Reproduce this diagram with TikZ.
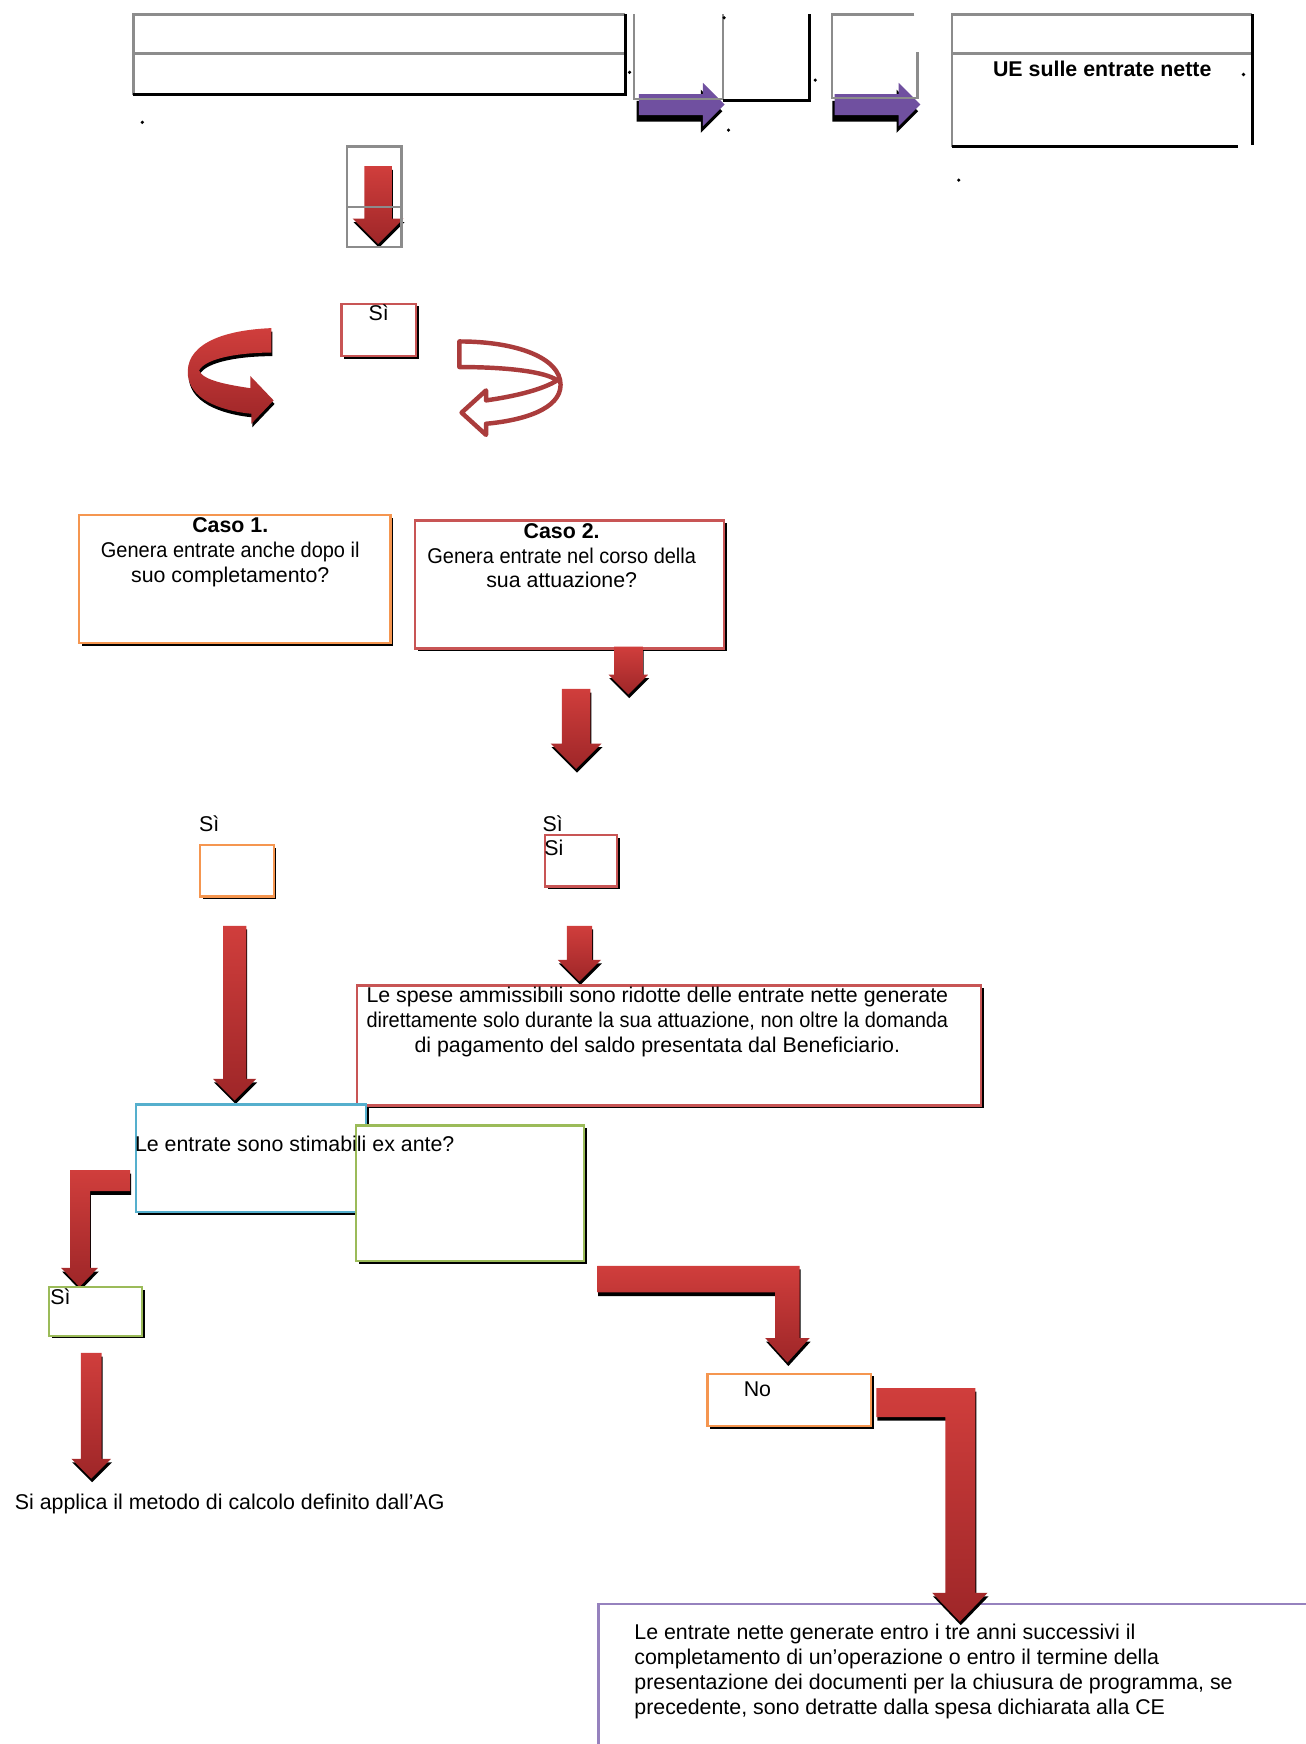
\documentclass[tikz,border=0pt]{standalone}
\usepackage{fontspec}
\setmainfont{Liberation Sans}
\usetikzlibrary{shapes.arrows, shadows, positioning}
\definecolor{lineGray}{RGB}{140, 140, 140}
\definecolor{arrowRed}{RGB}{208, 62, 60}
\definecolor{arrowRedDark}{RGB}{158, 38, 40}
\definecolor{arrowPurple}{RGB}{112, 80, 160}
\definecolor{borderOrange}{RGB}{245, 150, 80}
\definecolor{borderRed}{RGB}{200, 85, 85}
\definecolor{borderBlue}{RGB}{85, 175, 205}
\definecolor{borderGreen}{RGB}{155, 187, 89}
\definecolor{borderPurple}{RGB}{150, 130, 190}
\definecolor{outlineRed}{RGB}{170, 60, 60}

\begin{document}
\begin{tikzpicture}[
    x=0.5pt, y=-0.5pt,
    % Box styles
    box/.style={
        rectangle,
        draw=#1,
        line width=1pt,
        fill=white,
        anchor=north west,
        inner sep=0pt,
        drop shadow={shadow xshift=1.2pt, shadow yshift=-1.2pt, opacity=1, fill=black}
    },
    txt/.style={
        inner sep=0pt,
        align=center,
        font=\fontsize{9.6}{11.2}\selectfont
    },
    % Arrow styles
    redarrow/.style={
        top color=arrowRed,
        bottom color=arrowRedDark,
        draw=none,
        drop shadow={shadow xshift=0.4pt, shadow yshift=-1.6pt, opacity=1, fill=black}
    },
    downarrow/.style={
        redarrow,
        single arrow,
        shape border rotate=270,
        single arrow head extend=#1,
        anchor=tip
    },
    purplearrow/.style={
        single arrow,
        fill=arrowPurple,
        draw=none,
        inner sep=4.5pt,
        single arrow head extend=5pt,
        minimum width=19pt,
        minimum height=38.5pt,
        anchor=tip,
        drop shadow={shadow xshift=-1pt, shadow yshift=-3pt, opacity=1, fill=black}
    },
    grayline/.style={draw=lineGray, line width=1.2pt},
    blackline/.style={draw=black, line width=1.3pt}
]
\useasboundingbox (0,0) rectangle (1174,1568);

% Top row arrows
\node[purplearrow] (pa1) at (652,94) {};
\node[purplearrow] (pa2) at (828,94) {};

% Top row frames
\draw[grayline] (562,13) -- (120,13) -- (120,85);
\draw[grayline] (120,48) -- (562,48);
\draw[blackline] (120,85) -- (562,85) -- (562,13);
\draw[grayline] (570,13) -- (570,89) -- (650,89);
\draw[grayline] (650,13) -- (650,90);
\draw[blackline] (650,90) -- (728,90) -- (728,13);
\draw[grayline] (822,13) -- (748,13) -- (748,88) -- (825,88) -- (825,47);
\draw[grayline] (1126,13) -- (856,13) -- (856,132);
\draw[grayline] (856,48) -- (1126,48);
\draw[blackline] (856,132) -- (1113,132);
\draw[blackline] (1126,13) -- (1126,130);
\node[txt, font=\fontsize{9.6}{11.2}\selectfont\bfseries] (ue) at (991,62) {UE sulle entrate nette};

% Specks
\foreach \px/\py in {128/110, 566/65, 655/117, 733/72, 1118/67, 862/162, 651/16}
    \fill (\px,\py) circle (0.8pt);

% First down arrow
\node[downarrow=5.25pt, inner sep=6pt, minimum width=22.5pt, minimum height=35pt] (a1) at (340,220) {};
\draw[grayline] (312,132) rectangle (361,222);
\draw[grayline] (312,186) -- (361,186);

% Si and curved arrows
\node[box=borderRed, minimum width=33.5pt, minimum height=23.5pt] (sitop) at (306,272) {};
\node[txt, below=1pt of sitop.north] (sitopt) {Sì};
\path[redarrow] (244,295) .. controls (195,297) and (166,312) .. (169,338)
    .. controls (172,362) and (205,370) .. (226,372) -- (226,381) -- (246,360)
    -- (225,338) -- (225,349) .. controls (205,346) and (182,342) .. (179,333)
    .. controls (185,322) and (215,317) .. (244,317) -- cycle;
\draw[outlineRed, line width=2pt, line join=round, fill=white] (413,307)
    .. controls (465,307) and (504,322) .. (504,346)
    .. controls (504,368) and (470,378) .. (437,381) -- (437,391) -- (415,371)
    -- (437,351) -- (437,360) .. controls (465,356) and (488,350) .. (501,342)
    .. controls (490,334) and (455,330) .. (413,330) -- cycle;

% Cases
\node[box=borderOrange, minimum width=140pt, minimum height=57.5pt] (caso1) at (70,462) {};
\node[txt, below=1.5pt of caso1.north, xshift=-2pt] (caso1t) {\textbf{Caso 1.}\\\scalebox{0.935}[1]{Genera entrate anche dopo il}\\suo completamento?};
\node[box=borderRed, minimum width=139pt, minimum height=57.5pt] (caso2) at (372,467) {};
\node[txt, below=1.5pt of caso2.north, xshift=-3.5pt] (caso2t) {\textbf{Caso 2.}\\\scalebox{0.935}[1]{Genera entrate nel corso della}\\sua attuazione?};

\node[downarrow=2.5pt, inner sep=6.25pt, minimum width=17.5pt, minimum height=21.5pt] (a2) at (565,625) {};
\node[downarrow=5pt, inner sep=6.25pt, minimum width=22.5pt, minimum height=36pt] (a3) at (518,692) {};

% Si boxes
\node[txt] (si1) at (188,741) {Sì};
\node[box=borderOrange, minimum width=33pt, minimum height=23pt] (si1box) at (179,759) {};
\node[txt] (si2) at (497,741) {Sì};
\node[box=borderRed, minimum width=32.5pt, minimum height=23pt] (si2box) at (489,750) {};
\node[txt, anchor=north west] (si2t) at (489,755) {Si};

\node[downarrow=4.5pt, inner sep=5pt, minimum width=19pt, minimum height=78.5pt] (a4) at (211,990) {};
\node[downarrow=4pt, inner sep=5.5pt, minimum width=19pt, minimum height=25pt] (a5) at (521,883) {};

% Lower boxes
\node[box=borderRed, minimum width=280.5pt, minimum height=54pt] (spese) at (320,885) {};
\node[txt] (speset) at (591,919) {Le spese ammissibili sono ridotte delle entrate nette generate\\\scalebox{0.935}[1]{direttamente solo durante la sua attuazione, non oltre la domanda}\\di pagamento del saldo presentata dal Beneficiario.};
\node[box=borderBlue, minimum width=103.5pt, minimum height=48.5pt] (stima) at (121,992) {};
\node[box=borderGreen, minimum width=102.5pt, minimum height=61pt] (stimaB) at (319,1011) {};
\node[txt, anchor=west] (stimat) at (121,1028) {Le entrate sono stimabili ex ante?};

% Bent arrows
\path[redarrow] (117,1052) -- (63,1052) -- (63,1140) -- (55,1140) -- (71.5,1157)
    -- (88,1140) -- (81,1140) -- (81,1071) -- (117,1071) -- cycle;
\node[box=borderGreen, minimum width=42pt, minimum height=22pt] (si3box) at (43,1156) {};
\node[txt, anchor=west] (si3t) at (45,1166) {Sì};
\node[downarrow=4.25pt, inner sep=4.5pt, minimum width=17.5pt, minimum height=56.5pt] (a6) at (82,1330) {};
\node[txt, anchor=west] (metodo) at (13,1352) {Si applica il metodo di calcolo definito dall’AG};

\path[redarrow] (537,1138) -- (719,1138) -- (719,1203) -- (728,1203) -- (708,1225)
    -- (688,1203) -- (697,1203) -- (697,1162) -- (537,1162) -- cycle;
\node[box=borderOrange, minimum width=73.5pt, minimum height=23.5pt] (nobox) at (635,1234) {};
\node[txt] (not) at (681,1249) {No};

\node[draw=borderPurple, line width=1pt, fill=white, anchor=north west, inner sep=0pt,
    minimum width=330pt, minimum height=70pt] (ultimo) at (537,1441) {};
\node[txt, align=left, anchor=west] (ultimot) at (570,1503) {Le entrate nette generate entro i tre anni successivi il\\completamento di un’operazione o entro il termine della\\presentazione dei documenti per la chiusura de programma, se\\precedente, sono detratte dalla spesa dichiarata alla CE};
\path[redarrow] (788,1248) -- (877,1248) -- (877,1432) -- (888,1432) -- (863,1458)
    -- (838,1432) -- (850,1432) -- (850,1274) -- (788,1274) -- cycle;

\end{tikzpicture}
\end{document}
